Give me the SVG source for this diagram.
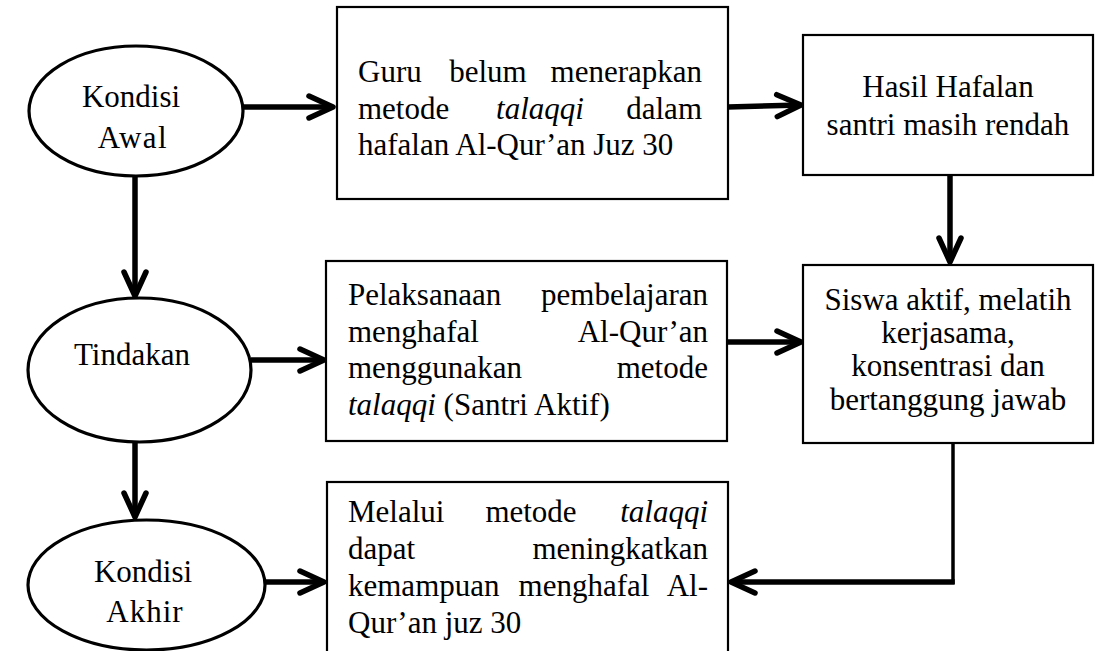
<svg xmlns="http://www.w3.org/2000/svg" width="1101" height="651" viewBox="0 0 1101 651">
<style>
text{font-family:"Liberation Serif","Times New Roman",serif;font-size:31px;fill:#000}
.i{font-style:italic}
.s{text-anchor:start}
.m{text-anchor:middle}
.e{text-anchor:end}
.box{fill:#fff;stroke:#000;stroke-width:2.2}
.ell{fill:#fff;stroke:#000;stroke-width:3.2}
.c{fill:none;stroke:#000;stroke-width:5.5}
.thin{fill:none;stroke:#000;stroke-width:3.5}
</style>
<defs>
<marker id="arr" markerUnits="userSpaceOnUse" markerWidth="32" markerHeight="32" viewBox="0 0 32 32" refX="28" refY="16" orient="auto">
<path d="M4,5 L28,16 L4,27" fill="none" stroke="#000" stroke-width="5.5" stroke-linecap="round" stroke-linejoin="round"/>
</marker>
</defs>
<rect width="1101" height="651" fill="#fff"/>
<g id="connectors">
<path class="c" d="M243,107 L333,107" marker-end="url(#arr)"/>
<path class="c" d="M728,107 L801,105" marker-end="url(#arr)"/>
<path class="c" d="M950,175 L950,262" marker-end="url(#arr)"/>
<path class="c" d="M135,177 L135,296" marker-end="url(#arr)"/>
<path class="c" d="M251,360 L324,360" marker-end="url(#arr)"/>
<path class="c" d="M728,342 L801,342" marker-end="url(#arr)"/>
<path class="c" d="M135,443 L135,517" marker-end="url(#arr)"/>
<path class="c" d="M265,582 L324,582" marker-end="url(#arr)"/>
<path class="thin" d="M953,443 L953,584"/>
<path class="c" d="M954.7,582 L731,582" marker-end="url(#arr)"/>
</g>
<g id="kondisi-awal">
<ellipse class="ell" cx="136" cy="111" rx="107" ry="65"/>
<text class="m" x="131" y="107">Kondisi</text>
<text class="m" x="133" y="148" letter-spacing="1.5">Awal</text>
</g>
<g id="tindakan">
<ellipse class="ell" cx="139.5" cy="370" rx="111.5" ry="72"/>
<text class="m" x="132" y="365">Tindakan</text>
</g>
<g id="kondisi-akhir">
<ellipse class="ell" cx="146.5" cy="585" rx="118.5" ry="65"/>
<text class="m" x="143" y="582">Kondisi</text>
<text class="m" x="145" y="622" letter-spacing="1">Akhir</text>
</g>
<g id="guru">
<rect class="box" x="337" y="7" width="391" height="192"/>
<text class="s" x="358" y="82">Guru</text>
<text class="m" x="488" y="82">belum</text>
<text class="e" x="702" y="82">menerapkan</text>
<text class="s" x="358" y="119">metode</text>
<text class="m i" x="540" y="119">talaqqi</text>
<text class="e" x="702" y="119">dalam</text>
<text class="s" x="358" y="155">hafalan Al-Qur’an Juz 30</text>
</g>
<g id="hasil">
<rect class="box" x="803" y="35" width="290" height="140"/>
<text class="m" x="948" y="97">Hasil Hafalan</text>
<text class="m" x="948" y="135">santri masih rendah</text>
</g>
<g id="pelaksanaan">
<rect class="box" x="326" y="261" width="401" height="180"/>
<text class="s" x="348" y="305">Pelaksanaan</text>
<text class="e" x="708" y="305">pembelajaran</text>
<text class="s" x="348" y="342">menghafal</text>
<text class="e" x="708" y="342">Al-Qur’an</text>
<text class="s" x="348" y="378">menggunakan</text>
<text class="e" x="708" y="378">metode</text>
<text class="s" x="348" y="415"><tspan class="i">talaqqi</tspan> (Santri Aktif)</text>
</g>
<g id="siswa">
<rect class="box" x="803" y="265" width="290" height="178"/>
<text class="m" x="948" y="310">Siswa aktif, melatih</text>
<text class="m" x="948" y="343">kerjasama,</text>
<text class="m" x="948" y="376">konsentrasi dan</text>
<text class="m" x="948" y="410">bertanggung jawab</text>
</g>
<g id="melalui">
<rect class="box" x="327" y="482" width="401" height="180"/>
<text class="s" x="348" y="522">Melalui</text>
<text class="m" x="531" y="522">metode</text>
<text class="e i" x="708" y="522">talaqqi</text>
<text class="s" x="348" y="559">dapat</text>
<text class="e" x="708" y="559">meningkatkan</text>
<text class="s" x="348" y="596">kemampuan</text>
<text class="m" x="584" y="596">menghafal</text>
<text class="e" x="708" y="596">Al-</text>
<text class="s" x="348" y="633">Qur’an juz 30</text>
</g>
</svg>
